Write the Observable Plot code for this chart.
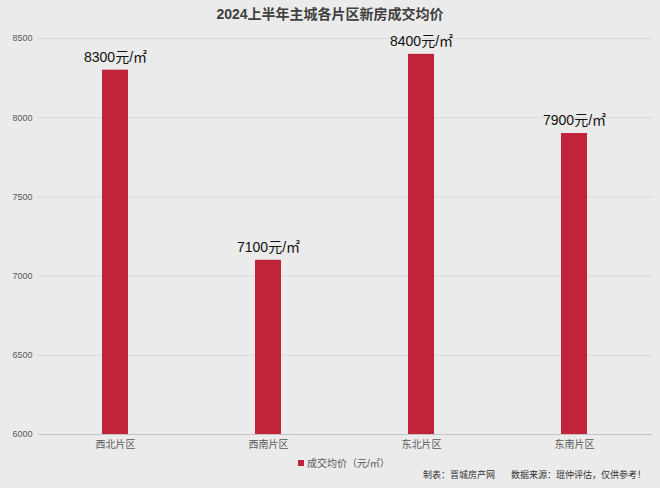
<!DOCTYPE html>
<html>
<head>
<meta charset="utf-8">
<script src="https://cdn.jsdelivr.net/npm/d3@7"></script>
<script src="https://cdn.jsdelivr.net/npm/@observablehq/plot@0.6"></script>
<style>
  html, body { margin: 0; padding: 0; }
  body { width: 660px; height: 488px; background: #ebebeb; position: relative; overflow: hidden;
         font-family: "Liberation Sans", "Noto Sans CJK SC", sans-serif; }
  #chart { position: absolute; left: 0; top: 0; }
  .title { position: absolute; left: 0; width: 660px; top: 5px; text-align: center;
           font-size: 14px; font-weight: bold; color: #404040; line-height: 18px; }
  .legend { position: absolute; left: 298px; top: 457px; font-size: 10px; color: #595959; line-height: 14px; }
  .legend .sw { display: inline-block; width: 6px; height: 6px; background: #c1233b; margin-right: 3px; vertical-align: 1px; }
  .foot { position: absolute; top: 468px; font-size: 9px; color: #333; line-height: 14px; }
</style>
</head>
<body>
<div class="title">2024上半年主城各片区新房成交均价</div>
<div id="chart"></div>
<div class="legend"><span class="sw"></span>成交均价（元/㎡）</div>
<div class="foot" style="left:423px;">制表：晋城房产网</div>
<div class="foot" style="left:511px;">数据来源：琨仲评估，仅供参考！</div>
<script>
const districts = ["西北片区", "西南片区", "东北片区", "东南片区"];
const prices = [8300, 7100, 8400, 7900];
const yTicks = [6000, 6500, 7000, 7500, 8000, 8500];
const unit = "元/㎡";

const data = districts.map((d, i) => ({district: d, price: prices[i]}));

const chart = Plot.plot({
  width: 660,
  height: 488,
  marginTop: 38,
  marginBottom: 54,
  marginLeft: 38,
  marginRight: 8,
  style: {background: "transparent", fontFamily: "'Liberation Sans', 'Noto Sans CJK SC', sans-serif"},
  x: {domain: districts, paddingInner: 0.83, paddingOuter: 0.415, label: null},
  y: {domain: [6000, 8500], label: null},
  marks: [
    Plot.gridY(yTicks, {stroke: "#d9d9d9", strokeOpacity: 1}),
    Plot.axisY(yTicks, {tickSize: 0, tickPadding: 6, fontSize: 9, fill: "#595959", label: null, tickFormat: d3.format("d")}),
    Plot.axisX({tickSize: 0, tickPadding: 6, fontSize: 10, fill: "#595959", label: null}),
    Plot.barY(data, {x: "district", y1: 6000, y2: "price", fill: "#c1233b"}),
    Plot.ruleY([6000], {stroke: "#c4c4c4"}),
    Plot.text(data, {x: "district", y: "price", text: d => d.price + unit, dy: -13, fontSize: 14, fill: "#111"})
  ]
});
document.getElementById("chart").appendChild(chart);
</script>
</body>
</html>
